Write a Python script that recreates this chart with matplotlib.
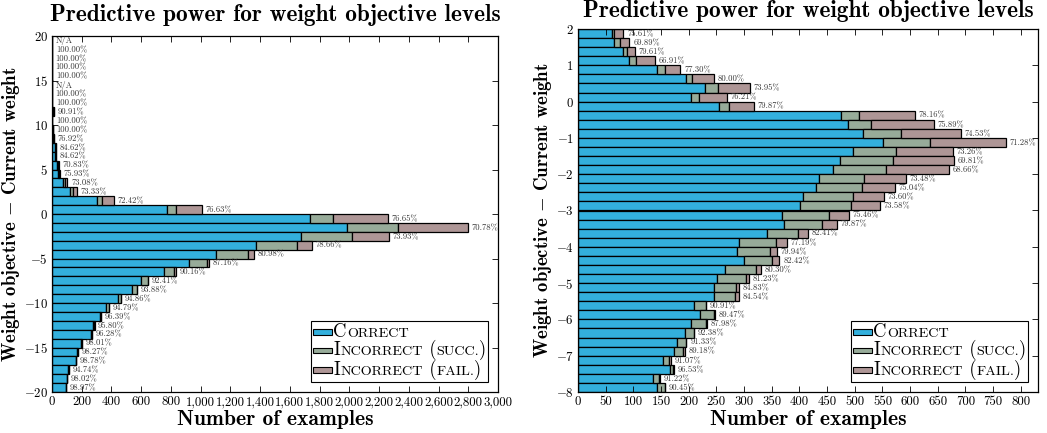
import numpy as np
import matplotlib
matplotlib.use("Agg")
import matplotlib.pyplot as plt
from matplotlib.ticker import FuncFormatter, MultipleLocator
from matplotlib.offsetbox import AnchoredOffsetbox, HPacker, VPacker, TextArea, DrawingArea
from matplotlib.patches import Rectangle

plt.rcParams['mathtext.fontset'] = 'cm'
plt.rcParams['font.family'] = 'cmr10'
plt.rcParams['axes.formatter.use_mathtext'] = True

# left panel: integer weight levels, bins listed from top (19..20) down to (-20..-19)
coarse_levels = np.arange(19, -21, -1)
coarse_correct = [0, 2, 1, 1, 3, 0, 1, 2, 10, 3, 4, 10, 22, 22, 34, 41, 76, 121, 302, 774,
                  1733, 1981, 1676, 1375, 1103, 923, 751, 597, 537, 443,
                  364, 320, 274, 259, 197, 170, 162, 108, 99, 96]
coarse_succ = [0, 0, 0, 0, 0, 0, 0, 0, 1, 0, 0, 1, 2, 2, 6, 6, 12, 20, 34, 58,
               157, 349, 340, 271, 218, 120, 72, 47, 33, 22,
               17, 10, 10, 8, 3, 2, 1, 4, 1, 1]
coarse_fail = [0, 0, 0, 0, 0, 0, 0, 0, 0, 0, 0, 2, 2, 2, 8, 7, 16, 24, 81, 178,
               371, 469, 251, 102, 41, 16, 10, 2, 2, 2,
               3, 2, 2, 2, 1, 1, 1, 2, 1, 0]

# right panel: quarter-unit levels, bins from top (1.75..2) down to (-8..-7.75)
fine_levels = np.arange(1.75, -8.25, -0.25)
fine_correct = [62, 65, 82, 93, 143, 196, 230, 205, 254, 476,
                488, 515, 551, 496, 474, 460, 435, 430, 407, 401,
                369, 373, 342, 291, 287, 300, 265, 251, 246, 246,
                210, 221, 205, 194, 179, 173, 153, 167, 135, 142]
fine_succ = [3, 10, 7, 12, 15, 10, 23, 13, 18, 32,
             42, 68, 85, 79, 95, 96, 82, 83, 89, 93,
             84, 67, 55, 67, 60, 51, 56, 53, 40, 37,
             21, 24, 26, 15, 16, 17, 12, 4, 12, 15]
fine_fail = [17, 18, 14, 34, 27, 39, 58, 51, 46, 101,
             113, 108, 137, 102, 110, 114, 75, 60, 57, 51,
             36, 27, 18, 19, 12, 13, 9, 5, 4, 8,
             0, 2, 2, 1, 1, 4, 3, 2, 1, 0]

C_CORRECT = '#33b0dd'
C_SUCC = '#97ab99'
C_FAIL = '#ae9696'

legend_labels = [
    [("C", True), ("ORRECT", False)],
    [("I", True), ("NCORRECT", False), (" (", True), ("SUCC.", False), (")", True)],
    [("I", True), ("NCORRECT", False), (" (", True), ("FAIL.", False), (")", True)],
]


def add_legend(ax):
    rows = []
    for parts, color in zip(legend_labels, [C_CORRECT, C_SUCC, C_FAIL]):
        da = DrawingArea(14, 7, 0, 0)
        da.add_artist(Rectangle((0, 1.5), 14, 4, facecolor=color, edgecolor='black', lw=0.8))
        texts = [TextArea(s, textprops=dict(fontsize=13.5 if big else 10.2, family='cmr10'))
                 for s, big in parts]
        label = HPacker(children=texts, align='baseline', pad=0, sep=0)
        rows.append(HPacker(children=[da, label], align='baseline', pad=0, sep=1))
    box = VPacker(children=rows, align='left', pad=0, sep=-0.5)
    anchored = AnchoredOffsetbox(loc='lower right', child=box, pad=0.12, borderpad=0.75,
                                 frameon=True)
    anchored.patch.set_boxstyle('square', pad=0)
    anchored.patch.set_edgecolor('black')
    anchored.patch.set_linewidth(0.8)
    ax.add_artist(anchored)


def draw_panel(ax, levels, correct, succ, fail, height, xlim, ylim, xstep, ystep, comma,
               title_pad):
    correct = np.array(correct)
    succ = np.array(succ)
    fail = np.array(fail)
    total = correct + succ + fail
    kw = dict(height=height, align='edge', edgecolor='black', linewidth=0.9)
    ax.barh(levels, correct, color=C_CORRECT, **kw)
    ax.barh(levels, succ, left=correct, color=C_SUCC, **kw)
    ax.barh(levels, fail, left=correct + succ, color=C_FAIL, **kw)
    offset = (xlim[1] - xlim[0]) * 0.008
    for lv, c, t in zip(levels, correct, total):
        txt = 'N/A' if t == 0 else f'{100.0 * c / t:.2f}%'
        ax.text(t + offset, lv + height * 0.45, txt, fontsize=6.2, color='#333333',
                va='center', ha='left')
    ax.set_xlim(*xlim)
    ax.set_ylim(*ylim)
    ax.xaxis.set_major_locator(MultipleLocator(xstep))
    ax.yaxis.set_major_locator(MultipleLocator(ystep))
    if comma:
        ax.xaxis.set_major_formatter(FuncFormatter(lambda v, p: f'{v:,.0f}'))
    else:
        ax.xaxis.set_major_formatter(FuncFormatter(lambda v, p: f'{v:.0f}'))
    ax.yaxis.set_major_formatter(FuncFormatter(lambda v, p: f'${v:g}$'))
    ax.tick_params(direction='in', top=True, right=True, labelsize=9.2, length=4, width=0.6,
                   pad=3)
    for s in ax.spines.values():
        s.set_linewidth(0.9)
    ax.set_title('Predictive power for weight objective levels', family='cmb10',
                 fontsize=16.8, pad=title_pad)
    ax.set_xlabel('Number of examples', family='cmb10', fontsize=15.5, labelpad=1)
    ax.set_ylabel('Weight objective $-$ Current weight', family='cmb10', fontsize=13.5,
                  labelpad=1.5)
    add_legend(ax)


W, H = 1047, 433
fig = plt.figure(figsize=(W / 100, H / 100), dpi=100)
ax1 = fig.add_axes([52 / W, (H - 392) / H, 446 / W, 356 / H])
ax2 = fig.add_axes([578 / W, (H - 392) / H, 460 / W, 363 / H])

draw_panel(ax1, coarse_levels, coarse_correct, coarse_succ, coarse_fail, 1.0,
           (0, 3000), (-20, 20), 200, 5, True, 10.5)
draw_panel(ax2, fine_levels, fine_correct, fine_succ, fine_fail, 0.25,
           (0, 831), (-8, 2), 50, 1, False, 9)

fig.savefig('out.png', dpi=100)
